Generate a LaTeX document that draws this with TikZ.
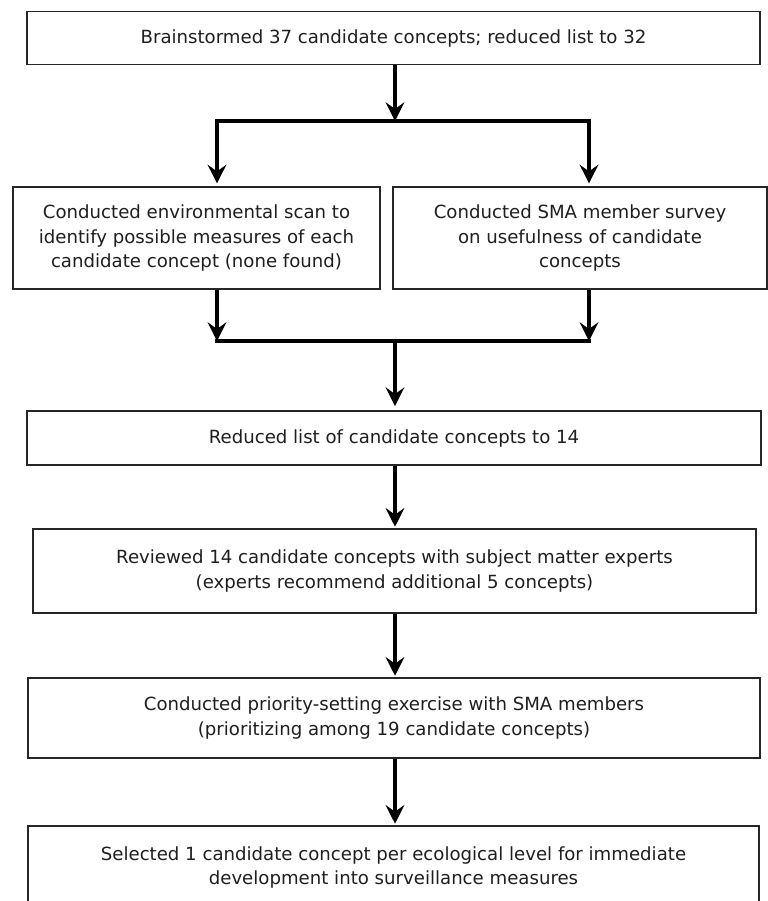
\documentclass[tikz,border=0pt]{standalone}
\usepackage{fontspec}
\setmainfont{DejaVu Sans}
\usetikzlibrary{arrows.meta}
\begin{document}
\begin{tikzpicture}[x=0.75pt,y=-0.75pt,
  box/.style={draw=black!85, line width=1.4pt, rectangle, inner sep=0pt, align=center,
    font=\fontsize{13.6}{18.3}\selectfont, text=black!88},
  conn/.style={line width=3pt},
  tipa/.tip={Stealth[length=14pt,width=14pt,inset=5pt]},
  arr/.style={conn, -tipa},
]
\clip (0,0) rectangle (768,901);
\fill[white] (0,0) rectangle (768,901);

\node[box, minimum width=549.75pt, minimum height=39.75pt] (top) at (393.5,38)
  {Brainstormed 37 candidate concepts; reduced list to 32};
\node[box, minimum width=275.25pt, minimum height=76.5pt] (left) at (196.5,238)
  {Conducted environmental scan to\\identify possible measures of each\\candidate concept (none found)};
\node[box, minimum width=280.5pt, minimum height=76.5pt] (right) at (580,238)
  {Conducted SMA member survey\\on usefulness of candidate\\concepts};
\node[box, minimum width=550.5pt, minimum height=40.5pt] (reduced) at (394,438)
  {Reduced list of candidate concepts to 14};
\node[box, minimum width=542.25pt, minimum height=63pt] (reviewed) at (394.5,571)
  {Reviewed 14 candidate concepts with subject matter experts\\(experts recommend additional 5 concepts)};
\node[box, minimum width=549pt, minimum height=60pt] (priority) at (394,718)
  {Conducted priority-setting exercise with SMA members\\(prioritizing among 19 candidate concepts)};
\node[box, minimum width=548.25pt, minimum height=62.25pt] (selected) at (393.5,867.5)
  {Selected 1 candidate concept per ecological level for immediate\\development into surveillance measures};

\coordinate (sp) at (395,121);
\coordinate (jl) at (217,121);
\coordinate (jr) at (589,121);
\coordinate (ml) at (217,341);
\coordinate (mr) at (589,341);
\coordinate (mc) at (395,341);

\draw[arr] (top.south -| sp) -- (sp);
\draw[conn, tipa-tipa, shorten <=2pt, shorten >=2pt] (left.north -| jl) -- (jl) -- (jr) -- (right.north -| jr);
\draw[arr] (left.south -| ml) -- (ml);
\draw[arr] (right.south -| mr) -- (mr);
\draw[conn, line cap=rect] (ml) -- (mr);
\draw[arr, shorten >=3pt] (mc) -- (reduced.north -| mc);
\draw[arr, shorten >=1pt] (reduced.south -| mc) -- (reviewed.north -| mc);
\draw[arr, shorten >=1pt] (reviewed.south -| mc) -- (priority.north -| mc);
\draw[arr, shorten >=1pt] (priority.south -| mc) -- (selected.north -| mc);
\end{tikzpicture}
\end{document}
